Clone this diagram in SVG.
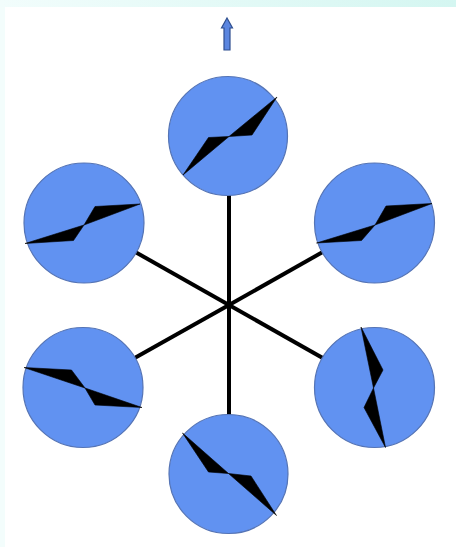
<svg xmlns="http://www.w3.org/2000/svg" width="456" height="547" viewBox="0 0 456 547">
  <defs>
    <linearGradient id="topband" x1="0" y1="0" x2="1" y2="0">
      <stop offset="0" stop-color="#f2fdfc"/>
      <stop offset="1" stop-color="#d4f6f1"/>
    </linearGradient>
    <style>
      .spoke { stroke: #000; stroke-width: 4; stroke-linecap: butt; }
      .disc { fill: #6192f1; stroke: #5574b5; stroke-width: 1.2; }
      .hand { fill: #000; stroke: #000; stroke-width: 0.6; stroke-linejoin: miter; }
      .arrow { fill: #5b86e0; stroke: #2f4f8f; stroke-width: 1.2; }
    </style>
  </defs>
  <rect x="0" y="0" width="456" height="547" fill="#ffffff"/>
  <rect x="0" y="0" width="456" height="7" fill="url(#topband)"/>
  <rect x="0" y="7" width="5" height="540" fill="#f3fdfc"/>

  <g id="arrow">
    <path class="arrow" d="M227,18 L232.5,28 L230,28 L230,50 L224,50 L224,28 L221.5,28 Z"/>
  </g>

  <g id="connectors">
    <line class="spoke" x1="229" y1="305" x2="229" y2="136"/>
    <line class="spoke" x1="229" y1="305" x2="229" y2="474"/>
    <line class="spoke" x1="229" y1="305" x2="84" y2="223"/>
    <line class="spoke" x1="229" y1="305" x2="374" y2="387"/>
    <line class="spoke" x1="229" y1="305" x2="83" y2="387"/>
    <line class="spoke" x1="229" y1="305" x2="374" y2="223"/>
  </g>

  <g id="node-top">
    <circle class="disc" cx="228" cy="136" r="59.5"/>
    <polygon class="hand" points="183,175 208.5,137.5 229,136.5"/>
    <polygon class="hand" points="229,136.5 252,135 277,97"/>
  </g>

  <g id="node-upper-left">
    <circle class="disc" cx="84" cy="223" r="60"/>
    <polygon class="hand" points="25,243.5 73.5,240.5 84,225"/>
    <polygon class="hand" points="84,225 95,206.5 140,204"/>
  </g>

  <g id="node-upper-right">
    <circle class="disc" cx="374.5" cy="223" r="60"/>
    <polygon class="hand" points="316.5,243 361.5,240.5 375,225"/>
    <polygon class="hand" points="375,225 386,206 432,203.5"/>
  </g>

  <g id="node-lower-left">
    <circle class="disc" cx="83" cy="387.5" r="60"/>
    <polygon class="hand" points="24,367.5 71.5,370 85,388"/>
    <polygon class="hand" points="85,388 95,405 142,407.5"/>
  </g>

  <g id="node-lower-right">
    <circle class="disc" cx="374.5" cy="387.5" r="60"/>
    <polygon class="hand" points="361,327 383,370 373.5,388"/>
    <polygon class="hand" points="373.5,388 364,407.5 385.5,447.5"/>
  </g>

  <g id="node-bottom">
    <circle class="disc" cx="228.5" cy="474" r="59.5"/>
    <polygon class="hand" points="182.5,433 208.5,472 228.5,473.5"/>
    <polygon class="hand" points="228.5,473.5 251,476 276.5,515.5"/>
  </g>
</svg>
